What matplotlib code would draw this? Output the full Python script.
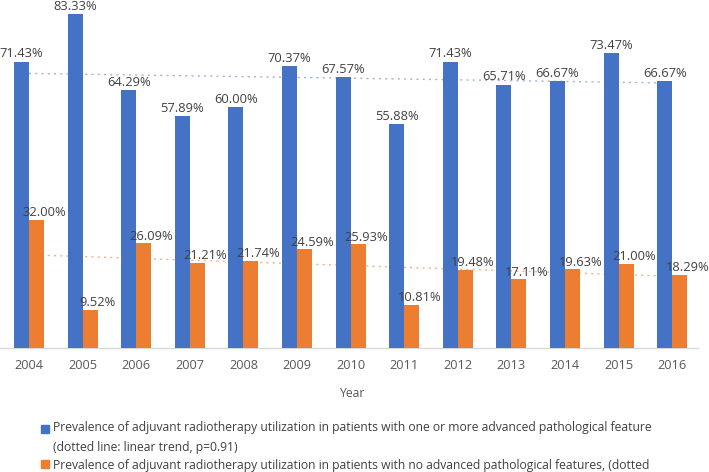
import numpy as np
import matplotlib
matplotlib.use("Agg")
import matplotlib.pyplot as plt
from matplotlib.patches import Rectangle

plt.rcParams['font.family'] = ['Open Sans', 'DejaVu Sans']

# data
years = ['2004', '2005', '2006', '2007', '2008', '2009', '2010',
         '2011', '2012', '2013', '2014', '2015', '2016']
adv_feature = [71.43, 83.33, 64.29, 57.89, 60.00, 70.37, 67.57,
               55.88, 71.43, 65.71, 66.67, 73.47, 66.67]
no_adv_feature = [32.00, 9.52, 26.09, 21.21, 21.74, 24.59, 25.93,
                  10.81, 19.48, 17.11, 19.63, 21.00, 18.29]
legend_lines = ['Prevalence of adjuvant radiotherapy utilization in patients with one or more advanced pathological feature',
                '(dotted line: linear trend, p=0.91)',
                'Prevalence of adjuvant radiotherapy utilization in patients with no advanced pathological features, (dotted']

blue = '#4472C4'
orange = '#ED7D31'
txtc = '#404040'

W, H = 709, 472
fig = plt.figure(figsize=(W/100, H/100), dpi=100)
ax = fig.add_axes([0, 124/H, 698/W, 348/H])

x = np.arange(len(years))
w = 0.28
ax.bar(x - w/2, adv_feature, w, color=blue, zorder=3)
ax.bar(x + w/2, no_adv_feature, w, color=orange, zorder=3)

# linear trend lines (dotted)
for vals, c in [(adv_feature, '#9db4e0'), (no_adv_feature, '#f4b183')]:
    k, m = np.polyfit(x, vals, 1)
    ax.plot(x, k*x + m, ls=(0, (1.5, 3)), color=c, lw=1.0, zorder=2)

for xi, v in zip(x, adv_feature):
    ax.annotate('%.2f%%' % v, (xi - w/2, v), xytext=(0, 3), textcoords='offset points',
                ha='center', va='baseline', fontsize=9.3, color=txtc, zorder=4)
for xi, v in zip(x, no_adv_feature):
    ax.annotate('%.2f%%' % v, (xi + w/2, v), xytext=(5.5, 2.5), textcoords='offset points',
                ha='center', va='baseline', fontsize=9.3, color=txtc, zorder=4)

ax.set_xlim(-0.541, 12.48)
ax.set_ylim(0, 86.8)
ax.set_xticks(x)
ax.set_xticklabels(years, fontsize=9.2, color='#595959')
ax.tick_params(axis='x', length=0, pad=8)
ax.set_yticks([])
for s in ['top', 'right', 'left']:
    ax.spines[s].set_visible(False)
ax.spines['bottom'].set_color('#d9d9d9')
ax.spines['bottom'].set_linewidth(1)
ax.set_xlabel('Year', fontsize=8.8, color='#595959')
ax.xaxis.set_label_coords(352/698, -39/348)

# legend drawn by hand to match line positions
for yy, c in [(429, blue), (464, orange)]:
    fig.patches.append(Rectangle((41/W, 1 - (yy + 4)/H), 8/W, 8/H, color=c,
                                 transform=fig.transFigure, figure=fig))
for yy, t in zip([428, 447, 465], legend_lines):
    fig.text(53/W, 1 - yy/H, t, ha='left', va='center', fontsize=8.75, color=txtc)

fig.savefig('out.png', dpi=100)
